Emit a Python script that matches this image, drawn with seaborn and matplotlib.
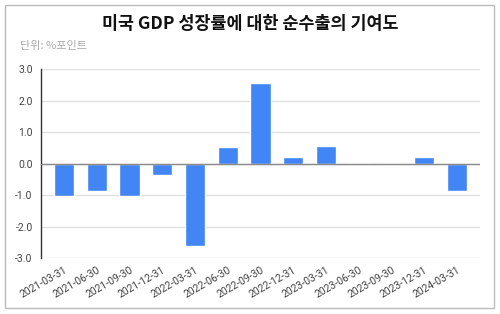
import matplotlib.pyplot as plt
import matplotlib.patches as mpatches
import pandas as pd
import seaborn as sns

# quarter-end dates and net export contribution (%p)
quarters = [
    "2021-03-31", "2021-06-30", "2021-09-30", "2021-12-31",
    "2022-03-31", "2022-06-30", "2022-09-30", "2022-12-31",
    "2023-03-31", "2023-06-30", "2023-09-30", "2023-12-31",
    "2024-03-31",
]
contribution = [-1.03, -0.87, -1.03, -0.35, -2.6, 0.53, 2.55, 0.2, 0.55, 0.03, -0.02, 0.2, -0.86]

df = pd.DataFrame({"quarter": quarters, "value": contribution})

sns.set_style("white")
plt.rcParams["font.family"] = ["Roboto", "Noto Sans CJK KR", "DejaVu Sans"]

fig = plt.figure(figsize=(5.0, 3.14), dpi=100)
ax = fig.add_axes([0.082, 0.178, 0.878, 0.602])

sns.barplot(data=df, x="quarter", y="value", color="#4285f4", width=0.62,
            saturation=1, ax=ax, zorder=3)

ax.set_ylim(-3, 3)
ax.set_xlim(-0.7, 12.7)
ax.set_yticks([-3, -2, -1, 0, 1, 2, 3])
ax.set_yticklabels([f"{v:.1f}" for v in [-3, -2, -1, 0, 1, 2, 3]])
ax.yaxis.grid(True, color="#e0e0e0", linewidth=1, zorder=0)
ax.axhline(0, color="#8a8a8a", linewidth=1, zorder=4)
ax.set_xlabel("")
ax.set_ylabel("")

for side in ["top", "right", "bottom"]:
    ax.spines[side].set_visible(False)
ax.spines["left"].set_color("#333333")
ax.spines["left"].set_linewidth(1)

ax.tick_params(axis="y", length=0, pad=6, labelsize=7.5, labelcolor="#444444")
ax.tick_params(axis="x", length=0, pad=5, labelsize=7.5, labelcolor="#444444")
plt.setp(ax.get_xticklabels(), rotation=30, ha="right", rotation_mode="anchor")

fig.text(0.5, 0.925, "미국 GDP 성장률에 대한 순수출의 기여도", ha="center", va="center",
         fontsize=12.5, fontweight="bold", color="#111111",
         family=["Noto Sans CJK KR", "DejaVu Sans"])
fig.text(0.04, 0.855, "단위: %포인트", ha="left", va="center", fontsize=8, color="#aaaaaa",
         family=["Noto Sans CJK KR", "DejaVu Sans"])

# chart frame as it sits on the sheet
fig.patches.append(mpatches.Rectangle((0.01, 0.02), 0.978, 0.965, transform=fig.transFigure,
                                      fill=False, edgecolor="#bbbbbb", linewidth=1))

fig.savefig("out.png", dpi=100)
